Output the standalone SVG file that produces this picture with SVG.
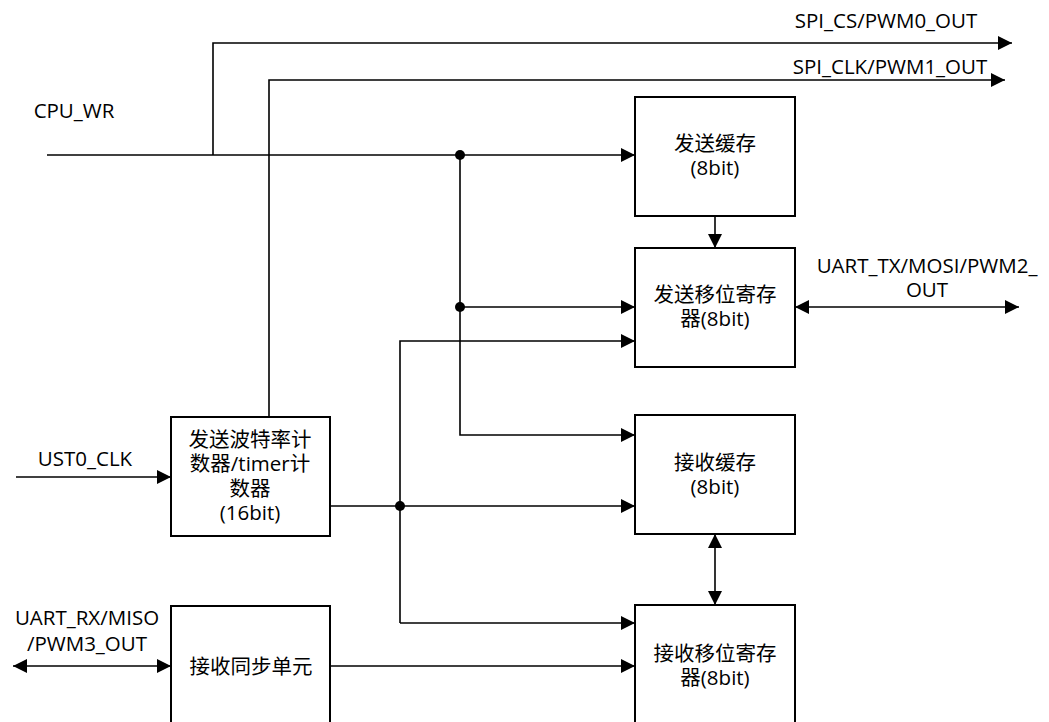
<svg xmlns="http://www.w3.org/2000/svg" width="1049" height="722" viewBox="0 0 1049 722">
<defs>
<marker id="ah" markerUnits="userSpaceOnUse" markerWidth="14" markerHeight="14" refX="14" refY="7" orient="auto-start-reverse" viewBox="0 0 14 14">
<path d="M0,0 L14,7 L0,14 z" fill="#000"/>
</marker>
</defs>
<style>
.box{fill:#fff;stroke:#000;stroke-width:2}
.ln{fill:none;stroke:#000;stroke-width:1.6}
.a{marker-end:url(#ah)}
.b{marker-start:url(#ah);marker-end:url(#ah)}
text{font-family:"Open Sans","Noto Sans CJK SC",sans-serif;font-size:20.5px;fill:#000;text-anchor:middle}
.dot{fill:#000}
</style>
<rect width="1049" height="722" fill="#fff"/>
<g id="connectors">
<path class="ln a" d="M47,155 H635"/>
<path class="ln a" d="M213,155 V43 H1012"/>
<path class="ln a" d="M269,417 V80 H1005"/>
<path class="ln a" d="M460,155 V435 H635"/>
<path class="ln a" d="M460,307 H635"/>
<path class="ln a" d="M715,216 V248"/>
<path class="ln b" d="M795,307 H1019"/>
<path class="ln a" d="M330,506 H635"/>
<path class="ln a" d="M400,623 V341 H635"/>
<path class="ln a" d="M400,623 H635"/>
<path class="ln b" d="M715,534 V605"/>
<path class="ln a" d="M330,666 H635"/>
<path class="ln b" d="M13,666 H171"/>
<path class="ln a" d="M16,477 H171"/>
<circle class="dot" cx="460" cy="155" r="5"/>
<circle class="dot" cx="460" cy="307" r="5"/>
<circle class="dot" cx="400" cy="506" r="5"/>
</g>
<g id="labels">
<text x="74" y="118">CPU_WR</text>
<text x="886" y="28">SPI_CS/PWM0_OUT</text>
<text x="890" y="74">SPI_CLK/PWM1_OUT</text>
<text x="927" y="273">UART_TX/MOSI/PWM2_</text>
<text x="927" y="297">OUT</text>
<text x="85" y="466">UST0_CLK</text>
<text x="87" y="625">UART_RX/MISO</text>
<text x="87" y="651">/PWM3_OUT</text>
</g>
<g id="tx-buf">
<rect class="box" x="635" y="97" width="160" height="119"/>
<text x="715" y="151">发送缓存</text>
<text x="715" y="175">(8bit)</text>
</g>
<g id="tx-shift">
<rect class="box" x="635" y="248" width="160" height="119"/>
<text x="715" y="302">发送移位寄存</text>
<text x="715" y="326">器(8bit)</text>
</g>
<g id="baud-counter">
<rect class="box" x="171" y="417" width="159" height="119"/>
<text x="250" y="447">发送波特率计</text>
<text x="250" y="471">数器/timer计</text>
<text x="250" y="496">数器</text>
<text x="250" y="520">(16bit)</text>
</g>
<g id="rx-buf">
<rect class="box" x="635" y="415" width="160" height="119"/>
<text x="715" y="470">接收缓存</text>
<text x="715" y="494">(8bit)</text>
</g>
<g id="rx-shift">
<rect class="box" x="635" y="605" width="160" height="130"/>
<text x="715" y="661">接收移位寄存</text>
<text x="715" y="685">器(8bit)</text>
</g>
<g id="rx-sync">
<rect class="box" x="171" y="606" width="159" height="130"/>
<text x="251" y="674">接收同步单元</text>
</g>
</svg>
